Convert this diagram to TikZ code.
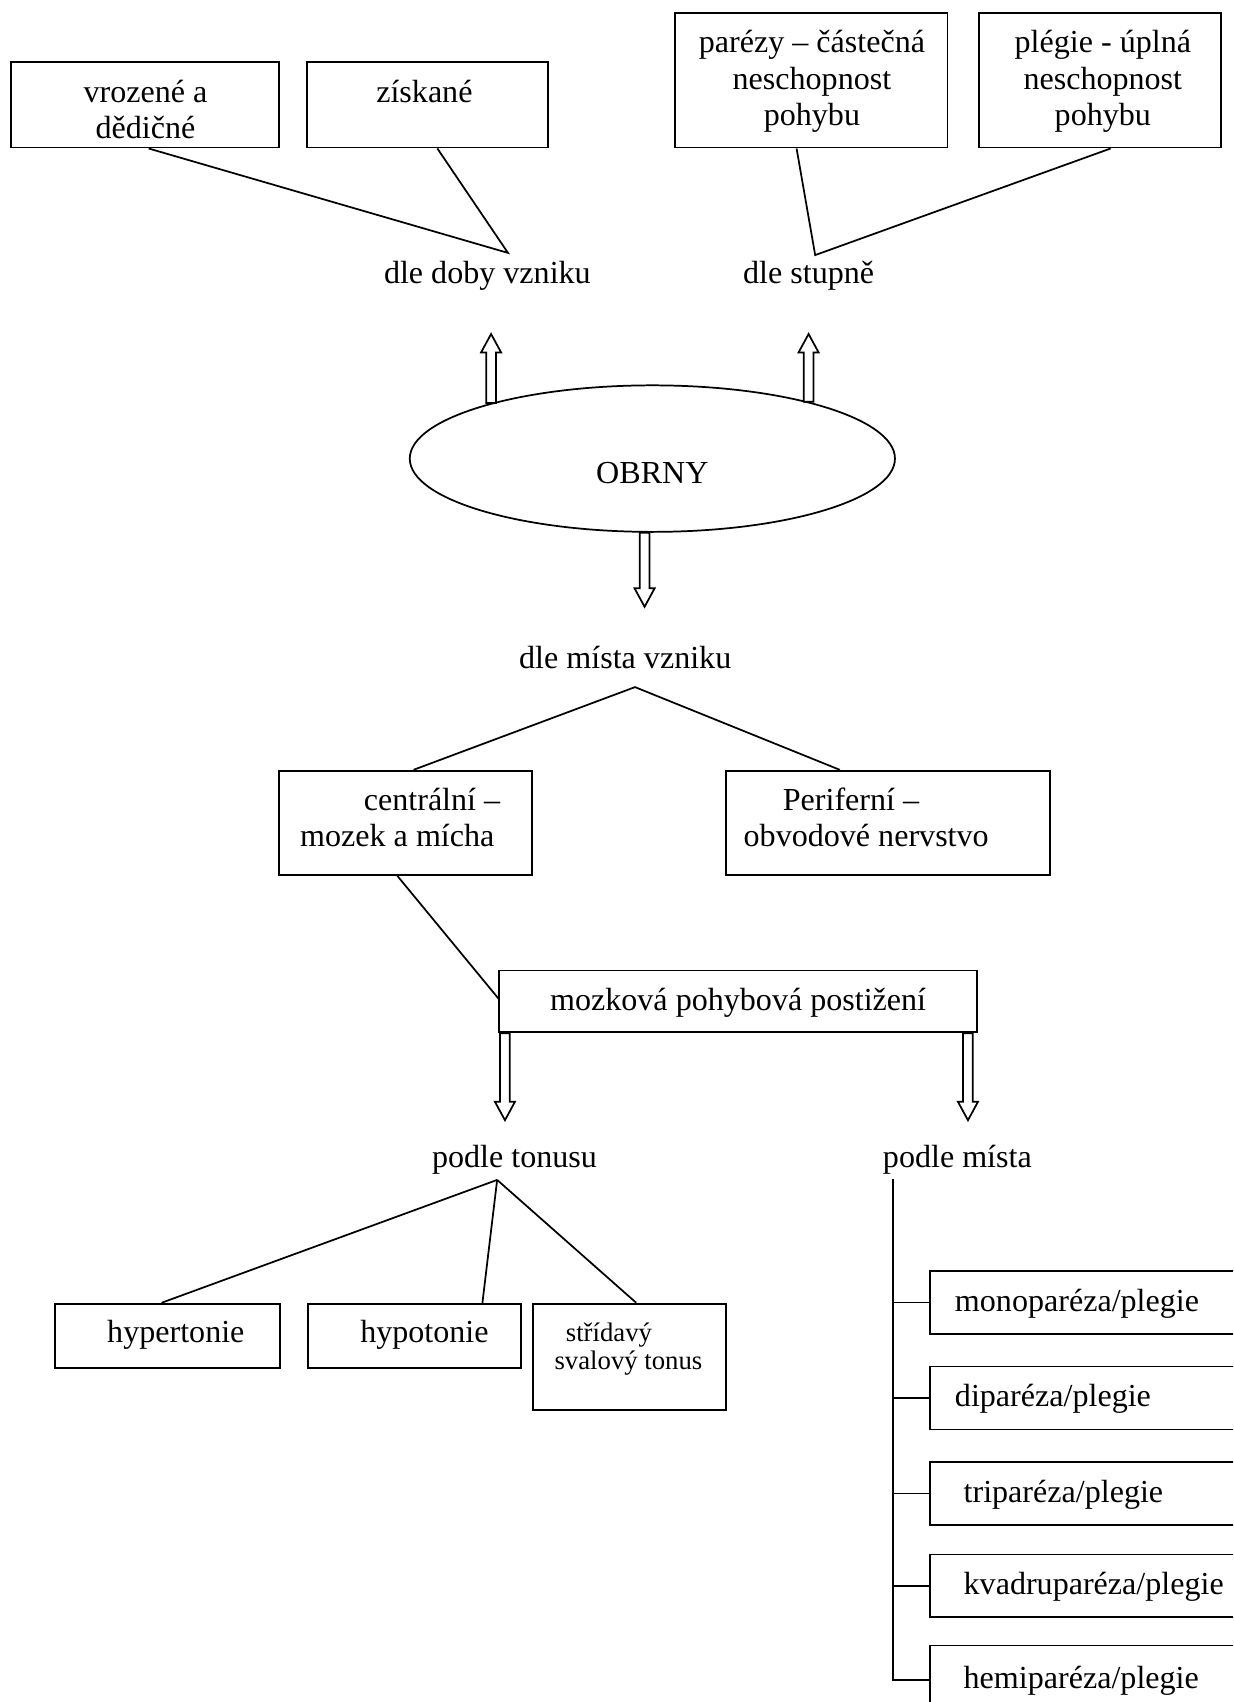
\documentclass[tikz,border=0pt]{standalone}
\usepackage{fontspec}
\setmainfont{Liberation Serif}
\usetikzlibrary{shapes.geometric,fit,calc}
\newcommand\blkup[2]{\draw[blk] let \p1=(#1), \p2=(#2) in
  (\x1-1.83pt,\y1) -- (\x1-1.83pt,\y2-6.9pt) -- (\x1-3.75pt,\y2-6.9pt) -- (\x1,\y2)
  -- (\x1+3.75pt,\y2-6.9pt) -- (\x1+1.83pt,\y2-6.9pt) -- (\x1+1.83pt,\y1) -- cycle;}
\newcommand\blkdown[2]{\draw[blk] let \p1=(#1), \p2=(#2) in
  (\x1-1.83pt,\y1) -- (\x1-1.83pt,\y2+6.9pt) -- (\x1-3.75pt,\y2+6.9pt) -- (\x1,\y2)
  -- (\x1+3.75pt,\y2+6.9pt) -- (\x1+1.83pt,\y2+6.9pt) -- (\x1+1.83pt,\y1) -- cycle;}
\begin{document}
\begin{tikzpicture}[x=0.406pt, y=-0.406pt, line width=0.65pt,
  box/.style={draw, rectangle, inner sep=0pt},
  txt/.style={inner sep=0pt, font=\fontsize{12}{13.8}\selectfont, align=center, anchor=base},
  ltxt/.style={inner sep=0pt, font=\fontsize{12}{13.8}\selectfont, anchor=base west},
  stxt/.style={inner sep=0pt, font=\fontsize{10}{10.6}\selectfont, anchor=base},
  blk/.style={draw, fill=white, line join=miter}]
\fill[white] (0,0) rectangle (1136,1568);
\useasboundingbox (0,0) rectangle (1136,1568);
\clip (0,0) rectangle (1136,1568);

% top left
\node[box, fit={(10,57) (257,136)}] (A) {};
\node[box, fit={(283,57) (505,136)}] (B) {};
\node[txt] (tA) at (134,128) {vrozené a\\dědičné};
\node[txt] (tB) at (391,94) {získané};
\node[txt] (t1) at (449,261) {dle doby vzniku};
\coordinate (ap1) at (468,233);
\draw ($(A.south west)!0.514!(A.south east)$) -- (ap1) -- ($(B.south west)!0.54!(B.south east)$);

% top right
\node[box, fit={(622,12) (873,136)}] (C) {};
\node[box, fit={(902,12) (1125,136)}] (D) {};
\node[txt] (tC) at (748,116) {parézy – částečná\\neschopnost\\pohybu};
\node[txt] (tD) at (1016,116) {plégie - úplná\\neschopnost\\pohybu};
\node[txt] (t2) at (745,261) {dle stupně};
\coordinate (ap2) at (751,235);
\draw ($(C.south west)!0.446!(C.south east)$) -- (ap2) -- ($(D.south west)!0.543!(D.south east)$);

% ellipse
\node[draw, ellipse, inner sep=0pt, minimum width=447*0.406pt, minimum height=135*0.406pt] (ob) at (601,422.5) {};
\node[txt] (tOB) at (601,445) {OBRNY};
\coordinate (tipL) at (451,307.7);
\coordinate (tipR) at (742,307.7);
\coordinate (tipD) at (594,559);
\blkup{ob.161.6}{tipL}
\blkup{ob.20.4}{tipR}
\blkdown{ob.264}{tipD}

% dle mista vzniku
\node[txt] (t3) at (576,616) {dle místa vzniku};
\node[box, fit={(257,710) (490,806)}] (E) {};
\node[box, fit={(669,710) (967,806)}] (F) {};
\node[txt] (tE1) at (398,747) {centrální –};
\node[txt] (tE2) at (366,780) {mozek a mícha};
\node[txt] (tF1) at (784,747) {Periferní –};
\node[txt] (tF2) at (798,780) {obvodové nervstvo};
\coordinate (ap3) at (585,633);
\draw ($(E.north west)!0.532!(E.north east)$) -- (ap3) -- ($(F.north west)!0.352!(F.north east)$);

% mozkova
\node[box, fit={(460,894) (900,951)}] (G) {};
\node[txt] (tG) at (680,931) {mozková pohybová postižení};
\draw ($(E.south west)!0.468!(E.south east)$) -- ($(G.north west)!0.456!(G.south west)$);
\coordinate (tipG1) at (466,1032);
\coordinate (tipG2) at (889,1032);
\blkdown{$(G.south west)!0.0136!(G.south east)$}{tipG1}
\blkdown{$(G.south west)!0.9795!(G.south east)$}{tipG2}

% podle tonusu
\node[txt] (t4) at (474,1076) {podle tonusu};
\node[box, fit={(51,1201) (258,1260)}] (H1) {};
\node[box, fit={(284,1201) (480,1260)}] (H2) {};
\node[box, fit={(491,1201) (669,1299)}] (H3) {};
\node[txt] (tH1) at (162,1237) {hypertonie};
\node[txt] (tH2) at (391,1237) {hypotonie};
\node[stxt] (tH3a) at (561,1236) {střídavý};
\node[stxt] (tH3b) at (579,1262) {svalový tonus};
\coordinate (ap4) at (458,1087);
\draw (ap4) -- ($(H1.north west)!0.473!(H1.north east)$);
\draw (ap4) -- ($(H2.north west)!0.816!(H2.north east)$);
\draw (ap4) -- ($(H3.north west)!0.534!(H3.north east)$);

% podle mista
\node[txt] (t5) at (882,1076) {podle místa};
\node[box, fit={(857,1171) (1145,1229)}] (M1) {};
\node[box, fit={(857,1259) (1145,1317)}] (M2) {};
\node[box, fit={(857,1347) (1145,1405)}] (M3) {};
\node[box, fit={(857,1432) (1145,1490)}] (M4) {};
\node[box, fit={(857,1516) (1145,1580)}] (M5) {};
\node[ltxt] (tM1) at (879,1208) {monoparéza/plegie};
\node[ltxt] (tM2) at (879,1296) {diparéza/plegie};
\node[ltxt] (tM3) at (887,1384) {triparéza/plegie};
\node[ltxt] (tM4) at (887,1469) {kvadruparéza/plegie};
\node[ltxt] (tM5) at (887,1556) {hemiparéza/plegie};
\coordinate (pm) at (823,1086);
\draw (pm) |- (M5.west);
\foreach \b in {M1,M2,M3,M4} \draw (pm |- \b.west) -- (\b.west);
\end{tikzpicture}
\end{document}
